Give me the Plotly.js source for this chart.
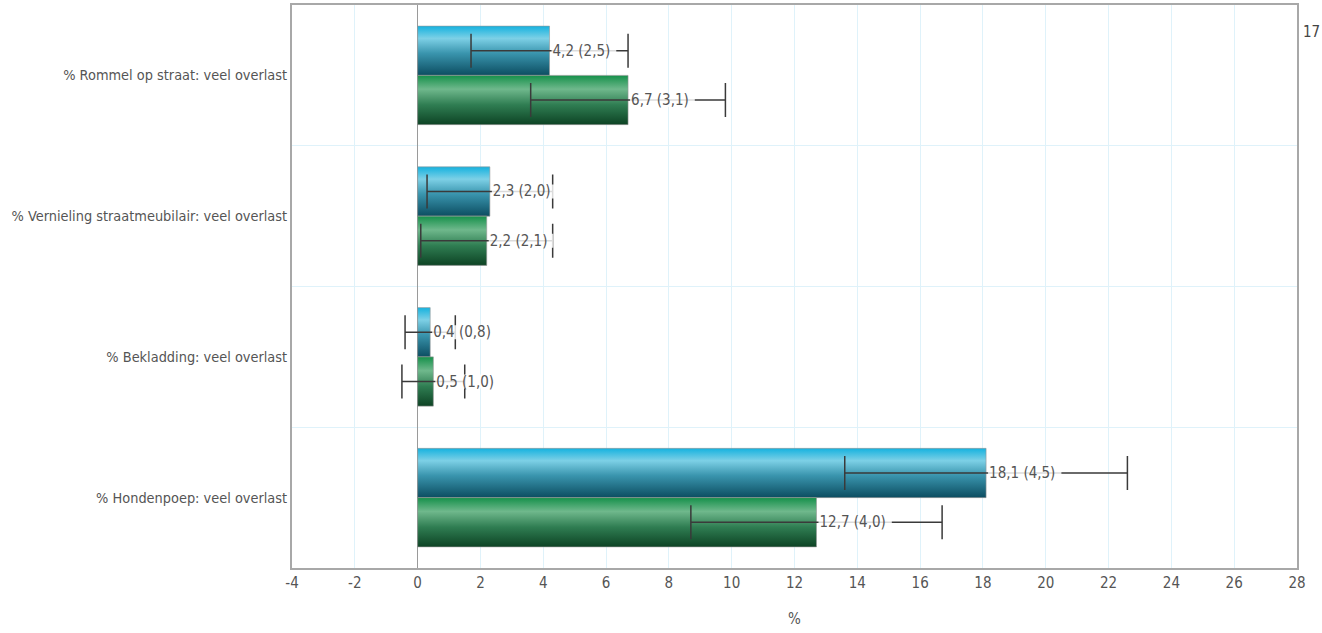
<!DOCTYPE html>
<html>
<head>
<meta charset="utf-8">
<script src="https://cdn.plot.ly/plotly-3.0.1.min.js"></script>
<style>
  html, body { margin: 0; padding: 0; background: #fff; }
  #chart { width: 1322px; height: 633px; }
</style>
</head>
<body>
<div id="chart"></div>
<script>
const categories = [
  "% Rommel op straat: veel overlast",
  "% Vernieling straatmeubilair: veel overlast",
  "% Bekladding: veel overlast",
  "% Hondenpoep: veel overlast"
];
const seriesA = [4.2, 2.3, 0.4, 18.1];
const errorsA = [2.5, 2.0, 0.8, 4.5];
const seriesB = [6.7, 2.2, 0.5, 12.7];
const errorsB = [3.1, 2.1, 1.0, 4.0];
const xTicks = [-4, -2, 0, 2, 4, 6, 8, 10, 12, 14, 16, 18, 20, 22, 24, 26, 28];
const cornerLabel = "17";

const FONT = "'Liberation Sans Narrow', 'DejaVu Sans Condensed', 'Arial Narrow', sans-serif";
const fmt = v => v.toFixed(1).replace('.', ',');
const labels = (vals, errs) => vals.map((v, i) => fmt(v) + ' (' + fmt(errs[i]) + ')');

function barTrace(vals, errs, color) {
  return {
    type: 'bar',
    orientation: 'h',
    y: categories,
    x: vals,
    marker: { color: color, line: { color: 'rgba(150,150,150,0.6)', width: 1 } },
    error_x: { type: 'data', array: errs, visible: true, color: '#3a3a3a', thickness: 1.5, width: 17 },
    text: labels(vals, errs),
    textposition: 'outside',
    constraintext: 'none',
    cliponaxis: false,
    textfont: { family: FONT, size: 15, color: '#555' },
    hoverinfo: 'none',
    showlegend: false
  };
}

const data = [
  barTrace(seriesA, errorsA, '#3a95ae'),
  barTrace(seriesB, errorsB, '#2f7d52')
];

const layout = {
  width: 1322, height: 633,
  margin: { l: 292, r: 25, t: 5, b: 65 },
  paper_bgcolor: '#fff', plot_bgcolor: '#fff',
  barmode: 'group', bargap: 0.3, bargroupgap: 0,
  font: { family: FONT, size: 14, color: '#555' },
  xaxis: {
    range: [-4, 28], tickvals: xTicks, ticktext: xTicks.map(String),
    showgrid: true, gridcolor: '#dff2fa', gridwidth: 1,
    zeroline: true, zerolinecolor: '#9a9a9a', zerolinewidth: 1.5,
    showline: true, linecolor: '#a8a8a8', linewidth: 2, mirror: true,
    ticks: '', tickfont: { family: FONT, size: 15, color: '#555' },
    title: { text: '%', font: { family: FONT, size: 15, color: '#555' }, standoff: 22 },
    fixedrange: true
  },
  yaxis: {
    type: 'category', autorange: 'reversed',
    tickson: 'boundaries', showgrid: true, gridcolor: '#dff2fa', gridwidth: 1,
    showline: true, linecolor: '#a8a8a8', linewidth: 2, mirror: true,
    ticks: '', ticklen: 0, tickfont: { family: FONT, size: 14.4, color: '#555' },
    fixedrange: true
  },
  annotations: [{
    text: cornerLabel, xref: 'paper', yref: 'paper', x: 1, y: 0.952,
    xanchor: 'left', yanchor: 'middle', xshift: 4, showarrow: false,
    font: { family: FONT, size: 15, color: '#444' }
  }]
};

const gradients = [
  { id: 'gradBlue', stops: [[0, '#15b2df'], [0.25, '#7dd0e6'], [0.55, '#3a95ae'], [1, '#0c4d61']] },
  { id: 'gradGreen', stops: [[0, '#15904a'], [0.28, '#6fb88c'], [0.6, '#2f7d52'], [1, '#0d4324']] }
];

function post() {
  const gd = document.getElementById('chart');
  const svg = gd.querySelector('svg.main-svg');
  const NS = 'http://www.w3.org/2000/svg';
  let defs = svg.querySelector('defs');
  if (!defs) { defs = document.createElementNS(NS, 'defs'); svg.insertBefore(defs, svg.firstChild); }
  gradients.forEach(g => {
    if (defs.querySelector('#' + g.id)) return;
    const lg = document.createElementNS(NS, 'linearGradient');
    lg.setAttribute('id', g.id);
    lg.setAttribute('x1', '0'); lg.setAttribute('y1', '0');
    lg.setAttribute('x2', '0'); lg.setAttribute('y2', '1');
    g.stops.forEach(s => {
      const st = document.createElementNS(NS, 'stop');
      st.setAttribute('offset', s[0]);
      st.setAttribute('stop-color', s[1]);
      lg.appendChild(st);
    });
    defs.appendChild(lg);
  });
  gd.querySelectorAll('.barlayer .trace').forEach((tr, i) => {
    tr.querySelectorAll('g.point > path').forEach(p => { p.style.fill = 'url(#' + gradients[i].id + ')'; });
    const holder = document.createElementNS(NS, 'g');
    tr.appendChild(holder);
    tr.querySelectorAll('text.bartext').forEach(t => {
      holder.appendChild(t);
      const bb = t.getBBox();
      const r = document.createElementNS(NS, 'rect');
      r.setAttribute('x', bb.x - 1);
      r.setAttribute('y', bb.y + 2);
      r.setAttribute('width', bb.width + 7);
      r.setAttribute('height', Math.max(0, bb.height - 4));
      r.setAttribute('fill', 'rgba(255,255,255,0.82)');
      const tf = t.getAttribute('transform');
      if (tf) r.setAttribute('transform', tf);
      holder.insertBefore(r, t);
    });
  });
}

Plotly.newPlot('chart', data, layout, { staticPlot: true, displayModeBar: false }).then(post);
</script>
</body>
</html>
